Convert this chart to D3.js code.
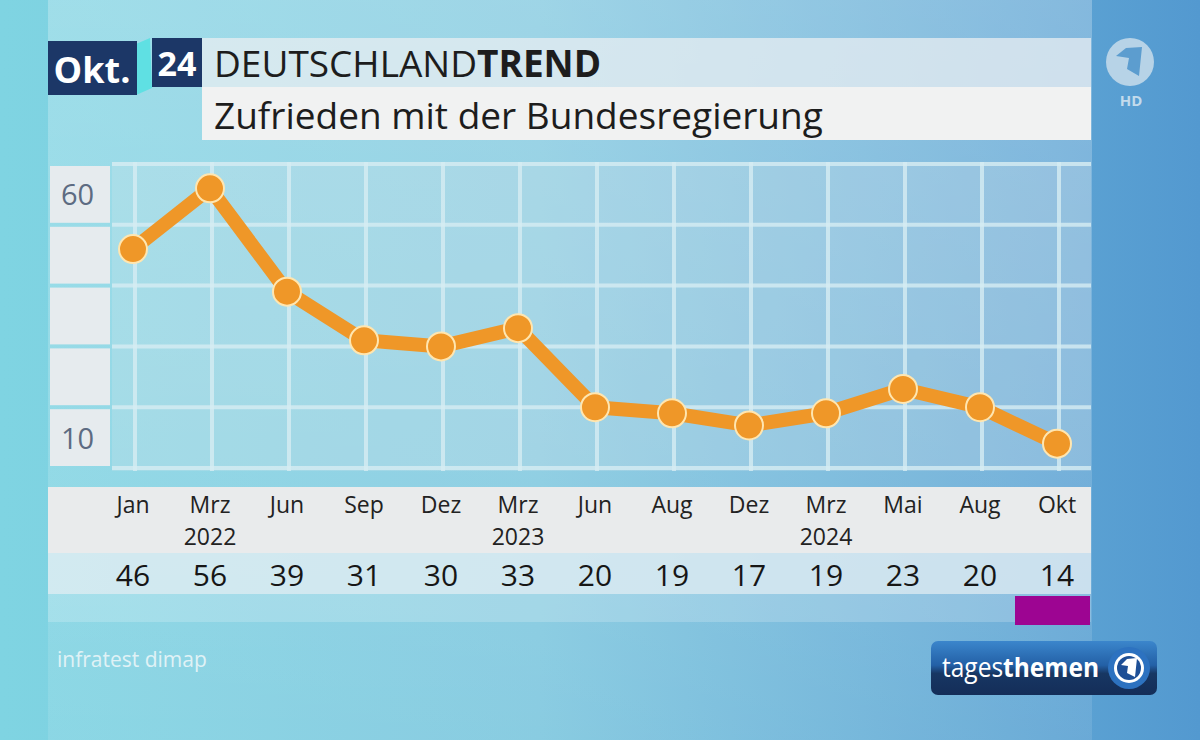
<!DOCTYPE html>
<html>
<head>
<meta charset="utf-8">
<script src="https://cdn.jsdelivr.net/npm/d3@7"></script>
<style>
  html, body { margin: 0; padding: 0; background: #6fc6dd; }
  svg { display: block; }
</style>
</head>
<body>
<svg id="chart" width="1200" height="740"></svg>
<script>
// ---- data ----
const months = ["Jan", "Mrz", "Jun", "Sep", "Dez", "Mrz", "Jun", "Aug", "Dez", "Mrz", "Mai", "Aug", "Okt"];
const years  = ["", "2022", "", "", "", "2023", "", "", "", "2024", "", "", ""];
const values = [46, 56, 39, 31, 30, 33, 20, 19, 17, 19, 23, 20, 14];
const yTicks = [10, 20, 30, 40, 50, 60];
const yLabels = [60, 10];
const titleMonth = "Okt.";
const titleYear = "24";
const title1 = "DEUTSCHLAND";
const title2 = "TREND";
const subtitle = "Zufrieden mit der Bundesregierung";
const source = "infratest dimap";

const svg = d3.select("#chart");
const W = 1200, H = 740;
const FONT = "'Open Sans', 'Noto Sans', sans-serif";

// ---- background ----
const defs = svg.append("defs");
const bg = defs.append("linearGradient").attr("id", "bg").attr("x1", 0).attr("x2", 1).attr("y1", 0).attr("y2", 0);
bg.append("stop").attr("offset", "0%").attr("stop-color", "#7fd4e2");
bg.append("stop").attr("offset", "45%").attr("stop-color", "#7cc6de");
bg.append("stop").attr("offset", "100%").attr("stop-color", "#5399d0");
svg.append("rect").attr("width", W).attr("height", H).attr("fill", "url(#bg)");
const bgv = defs.append("linearGradient").attr("id", "bgv").attr("x1", 0).attr("x2", 0).attr("y1", 0).attr("y2", 1);
bgv.append("stop").attr("offset", "0%").attr("stop-color", "#ffffff").attr("stop-opacity", 0.26);
bgv.append("stop").attr("offset", "100%").attr("stop-color", "#ffffff").attr("stop-opacity", 0.1);
svg.append("rect").attr("x", 48).attr("y", 0).attr("width", 1044).attr("height", H).attr("fill", "url(#bgv)");

// ---- scales ----
const x = d3.scalePoint().domain(d3.range(values.length)).range([133, 1057]);
const y = d3.scaleLinear().domain([10, 60]).range([468, 164]);

const plotL = 112, plotR = 1091, plotT = 162, plotB = 471;

// plot background
svg.append("rect").attr("x", plotL).attr("y", plotT).attr("width", plotR - plotL).attr("height", plotB - plotT)
  .attr("fill", "#dfe9ee").attr("opacity", 0.22);

// y label cells
const cellG = svg.append("g");
for (let i = 0; i < yTicks.length - 1; i++) {
  const top = y(yTicks[i + 1]) + 2, bot = y(yTicks[i]) - 2;
  cellG.append("rect").attr("x", 50).attr("y", top).attr("width", 60).attr("height", bot - top)
    .attr("fill", "#e6ebee");
}
cellG.selectAll("text").data(yLabels).join("text")
  .attr("x", 61)
  .attr("y", d => (d === 60 ? (y(60) + y(50)) / 2 : (y(20) + y(10)) / 2) + 11)
  .attr("font-family", FONT).attr("font-size", 29).attr("fill", "#5d6b82")
  .text(d => d);

// grid
const grid = svg.append("g").attr("stroke", "#d6ecf3").attr("stroke-opacity", 0.8).attr("stroke-width", 4);
grid.selectAll("line.h").data(yTicks).join("line").attr("class", "h")
  .attr("x1", plotL).attr("x2", plotR).attr("y1", d => y(d)).attr("y2", d => y(d));
grid.selectAll("line.v").data(d3.range(values.length)).join("line").attr("class", "v")
  .attr("x1", d => x(d) + 2).attr("x2", d => x(d) + 2).attr("y1", plotT).attr("y2", plotB);

// ---- bottom bands ----
svg.append("rect").attr("x", 48).attr("y", 487).attr("width", 1043).attr("height", 66).attr("fill", "#e9ebec");
svg.append("rect").attr("x", 48).attr("y", 553).attr("width", 1043).attr("height", 41).attr("fill", "#e4eef3").attr("opacity", 0.78);
svg.append("rect").attr("x", 48).attr("y", 594).attr("width", 1043).attr("height", 28).attr("fill", "#ffffff").attr("opacity", 0.2);
svg.append("rect").attr("x", 1015).attr("y", 596).attr("width", 75).attr("height", 29).attr("fill", "#9d0592");

const lab = svg.append("g").attr("font-family", FONT).attr("text-anchor", "middle");
lab.selectAll("text.m").data(months).join("text").attr("class", "m")
  .attr("x", (d, i) => x(i)).attr("y", 513).attr("font-size", 23).attr("fill", "#222")
  .text(d => d);
lab.selectAll("text.yr").data(years).join("text").attr("class", "yr")
  .attr("x", (d, i) => x(i)).attr("y", 545).attr("font-size", 23).attr("fill", "#222")
  .text(d => d);
lab.selectAll("text.v").data(values).join("text").attr("class", "v")
  .attr("x", (d, i) => x(i)).attr("y", 586).attr("font-size", 30).attr("font-weight", 500).attr("fill", "#161616")
  .text(d => d);

// ---- line + points ----
const line = d3.line().x((d, i) => x(i)).y(d => y(d));
svg.append("path").datum(values).attr("d", line)
  .attr("fill", "none").attr("stroke", "#ef9728").attr("stroke-width", 14)
  .attr("stroke-linejoin", "round");
svg.selectAll("circle.pt").data(values).join("circle").attr("class", "pt")
  .attr("cx", (d, i) => x(i)).attr("cy", d => y(d)).attr("r", 14)
  .attr("fill", "#ef9728").attr("stroke", "#ffe6b0").attr("stroke-width", 2);

// ---- title ----
svg.append("polygon").attr("points", "136,44 150,38 152,88 136,95").attr("fill", "#5fe0e3");
svg.append("rect").attr("x", 48).attr("y", 41).attr("width", 89).attr("height", 54).attr("fill", "#1c3767");
svg.append("text").attr("x", 92).attr("y", 83).attr("text-anchor", "middle")
  .attr("font-family", FONT).attr("font-weight", 700).attr("font-size", 36).attr("fill", "#fff").text(titleMonth);
svg.append("rect").attr("x", 152).attr("y", 38).attr("width", 50).attr("height", 49).attr("fill", "#1c3767");
svg.append("text").attr("x", 177).attr("y", 76).attr("text-anchor", "middle")
  .attr("font-family", FONT).attr("font-weight", 700).attr("font-size", 34).attr("fill", "#fff").text(titleYear);
svg.append("rect").attr("x", 202).attr("y", 38).attr("width", 889).attr("height", 49).attr("fill", "#e8eef2").attr("opacity", 0.75);
svg.append("rect").attr("x", 202).attr("y", 87).attr("width", 889).attr("height", 53).attr("fill", "#f1f2f2");
const t1 = svg.append("text").attr("x", 214).attr("y", 77).attr("font-family", FONT).attr("font-size", 37).attr("fill", "#1d1d1d");
t1.append("tspan").text(title1);
t1.append("tspan").attr("font-weight", 700).text(title2);
svg.append("text").attr("x", 214).attr("y", 129).attr("font-family", FONT).attr("font-size", 37).attr("fill", "#1d1d1d").text(subtitle);

// ---- ARD logo top right ----
const logo = svg.append("g").attr("transform", "translate(1130,62)");
logo.append("circle").attr("r", 24).attr("fill", "#b7d3e7");
logo.append("path").attr("d", "M-14,-6 L-4,-14 L12,-15 L9,14 L-3,7 L-1,-4 Z").attr("fill", "#5c9dcf");
svg.append("text").attr("x", 1131).attr("y", 106).attr("text-anchor", "middle")
  .attr("font-family", FONT).attr("font-weight", 700).attr("font-size", 15).attr("fill", "#c3dbec").text("HD");

// ---- source ----
svg.append("text").attr("x", 57).attr("y", 667).attr("font-family", FONT).attr("font-size", 21)
  .attr("fill", "#e0f2f6").text(source);

// ---- tagesthemen logo ----
const tg = defs.append("linearGradient").attr("id", "tg").attr("x1", 0).attr("x2", 0).attr("y1", 0).attr("y2", 1);
tg.append("stop").attr("offset", "0%").attr("stop-color", "#3b86cc");
tg.append("stop").attr("offset", "45%").attr("stop-color", "#2360a6");
tg.append("stop").attr("offset", "60%").attr("stop-color", "#173763");
tg.append("stop").attr("offset", "100%").attr("stop-color", "#142d58");
svg.append("rect").attr("x", 931).attr("y", 641).attr("width", 226).attr("height", 54).attr("rx", 7).attr("fill", "url(#tg)");
const tt = svg.append("text").attr("x", 942).attr("y", 677).attr("font-family", FONT).attr("font-size", 27).attr("fill", "#fff")
  .attr("textLength", 157).attr("lengthAdjust", "spacingAndGlyphs");
tt.append("tspan").text("tages");
tt.append("tspan").attr("font-weight", 700).text("themen");
const lg = svg.append("g").attr("transform", "translate(1129,668)");
lg.append("circle").attr("r", 21).attr("fill", "#2d72c0");
lg.append("circle").attr("r", 15).attr("fill", "#ffffff");
lg.append("circle").attr("r", 12).attr("fill", "#1e4f96");
lg.append("path").attr("d", "M-8,-3 L-2,-9 L8,-10 L6,9 L-2,5 L-1,-2 Z").attr("fill", "#ffffff");
</script>
</body>
</html>
